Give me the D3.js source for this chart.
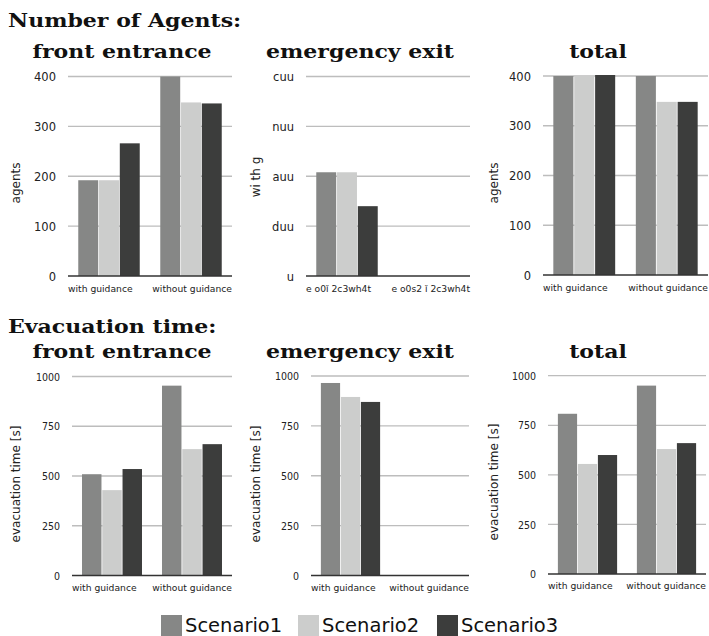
<!DOCTYPE html>
<html><head><meta charset="utf-8">
<script src="https://cdn.jsdelivr.net/npm/d3@7"></script>
<style>body{margin:0;background:#fff}svg{display:block}</style>
</head><body>
<script>
const groups = ["with guidance", "without guidance"];
const seriesNames = ["Scenario1", "Scenario2", "Scenario3"];
const seriesColors = ["#868786", "#cccdcc", "#3c3d3c"];

const agentsFront = [[192, 192, 266], [400, 348, 346]];
const agentsExit = [[208, 208, 140], [0, 0, 0]];
const agentsTotal = [[400, 400, 402], [400, 348, 348]];
const timeFront = [[509, 429, 535], [954, 635, 660]];
const timeExit = [[965, 895, 870], [0, 0, 0]];
const timeTotal = [[808, 555, 600], [950, 630, 660]];

const agentTicks = [0, 100, 200, 300, 400];
const timeTicks = [0, 250, 500, 750, 1000];
const garbledTickLabels = ["u", "duu", "auu", "nuu", "cuu"];
const garbledGroups = ["e o0ǐ 2c3wh4t", "e o0s2 ǐ 2c3wh4t"];

const W = 709, H = 636;
const svg = d3.select("body").append("svg").attr("width", W).attr("height", H);

const serif = "'DejaVu Serif', serif";
const sans = "'DejaVu Sans', sans-serif";
const titleScale = 1.16;

function title(x, y, txt, anchor) {
  svg.append("text").attr("transform", `translate(${x},${y}) scale(${titleScale},1)`)
    .attr("text-anchor", anchor).text(txt)
    .attr("font-family", serif).attr("font-weight", "bold").attr("font-size", 19).attr("fill", "#111");
}
title(8, 27, "Number of Agents:", "start");
title(8, 333, "Evacuation time:", "start");

const panels = [
  {title: "front entrance", tcx: 122, ty: 58, x0: 68, x1: 232, yT: 76.5, yB: 276, data: agentsFront, ticks: agentTicks, tickLabels: null, max: 400, ylab: "agents", lx: 16, ly: 183, xl: groups, xly: 292, small: false},
  {title: "emergency exit", tcx: 360, ty: 58, x0: 306, x1: 470, yT: 76.5, yB: 276, data: agentsExit, ticks: agentTicks, tickLabels: garbledTickLabels, max: 400, ylab: "wi th g", lx: 256, ly: 177, xl: garbledGroups, xly: 292, small: false},
  {title: "total", tcx: 598, ty: 58, x0: 543, x1: 708, yT: 76, yB: 275, data: agentsTotal, ticks: agentTicks, tickLabels: null, max: 400, ylab: "agents", lx: 494, ly: 183, xl: groups, xly: 291, small: false},
  {title: "front entrance", tcx: 122, ty: 358, x0: 72, x1: 232, yT: 376.5, yB: 575.5, data: timeFront, ticks: timeTicks, tickLabels: null, max: 1000, ylab: "evacuation time [s]", lx: 16, ly: 484, xl: groups, xly: 591, small: true},
  {title: "emergency exit", tcx: 360, ty: 358, x0: 311, x1: 469, yT: 376, yB: 575.5, data: timeExit, ticks: timeTicks, tickLabels: null, max: 1000, ylab: "evacuation time [s]", lx: 256, ly: 484, xl: groups, xly: 591, small: true},
  {title: "total", tcx: 598, ty: 358, x0: 548, x1: 706, yT: 375.7, yB: 574, data: timeTotal, ticks: timeTicks, tickLabels: null, max: 1000, ylab: "evacuation time [s]", lx: 494, ly: 482, xl: groups, xly: 589, small: true}
];

panels.forEach(p => {
  const g = svg.append("g");
  title(p.tcx, p.ty, p.title, "middle");

  const y = d3.scaleLinear().domain([0, p.max]).range([p.yB, p.yT]);
  const x = d3.scaleBand().domain(d3.range(groups.length)).range([p.x0, p.x1])
    .paddingInner(0.23).paddingOuter(0.115);
  const xs = d3.scaleBand().domain(d3.range(seriesNames.length)).range([0, x.bandwidth()]).padding(0.04);

  g.selectAll(".grid").data(p.ticks.filter(t => t > 0)).join("line")
    .attr("x1", p.x0).attr("x2", p.x1)
    .attr("y1", d => y(d)).attr("y2", d => y(d))
    .attr("stroke", "#bdbdbd").attr("stroke-width", 1.3);

  const axis = d3.axisLeft(y).tickValues(p.ticks).tickSize(0).tickPadding(12)
    .tickFormat((d, i) => p.tickLabels ? p.tickLabels[i] : d3.format("d")(d));
  const ag = g.append("g").attr("transform", `translate(${p.x0},0)`).call(axis);
  ag.select(".domain").remove();
  ag.selectAll("text").attr("font-family", p.small ? "'DejaVu Sans Condensed', 'DejaVu Sans', sans-serif" : sans)
    .attr("font-size", p.small ? 10.5 : 11.5).attr("fill", "#222").attr("dy", "0.35em");

  p.data.forEach((vals, gi) => {
    g.selectAll(null).data(vals).join("rect")
      .attr("x", (d, si) => x(gi) + xs(si))
      .attr("width", xs.bandwidth())
      .attr("y", d => y(d))
      .attr("height", d => p.yB - y(d))
      .attr("fill", (d, si) => seriesColors[si]);
  });

  g.append("line").attr("x1", p.x0).attr("x2", p.x1).attr("y1", p.yB).attr("y2", p.yB)
    .attr("stroke", "#333").attr("stroke-width", 1.5);

  p.xl.forEach((lab, i) => {
    const first = i === 0;
    g.append("text").attr("x", first ? p.x0 : p.x1).attr("y", p.xly)
      .attr("text-anchor", first ? "start" : "end")
      .text(lab).attr("font-family", sans).attr("font-size", 9.2).attr("fill", "#222");
  });

  g.append("text").attr("transform", `translate(${p.lx},${p.ly}) rotate(-90)`)
    .attr("text-anchor", "middle").attr("dy", "0.35em")
    .text(p.ylab).attr("font-family", sans).attr("font-size", 12).attr("fill", "#222");
});

const legX = [161, 298, 437];
seriesNames.forEach((s, i) => {
  svg.append("rect").attr("x", legX[i]).attr("y", 615).attr("width", 21).attr("height", 21).attr("fill", seriesColors[i]);
  svg.append("text").attr("x", legX[i] + 24).attr("y", 632).text(s)
    .attr("font-family", sans).attr("font-size", 19.5).attr("fill", "#111");
});
</script>
</body></html>
